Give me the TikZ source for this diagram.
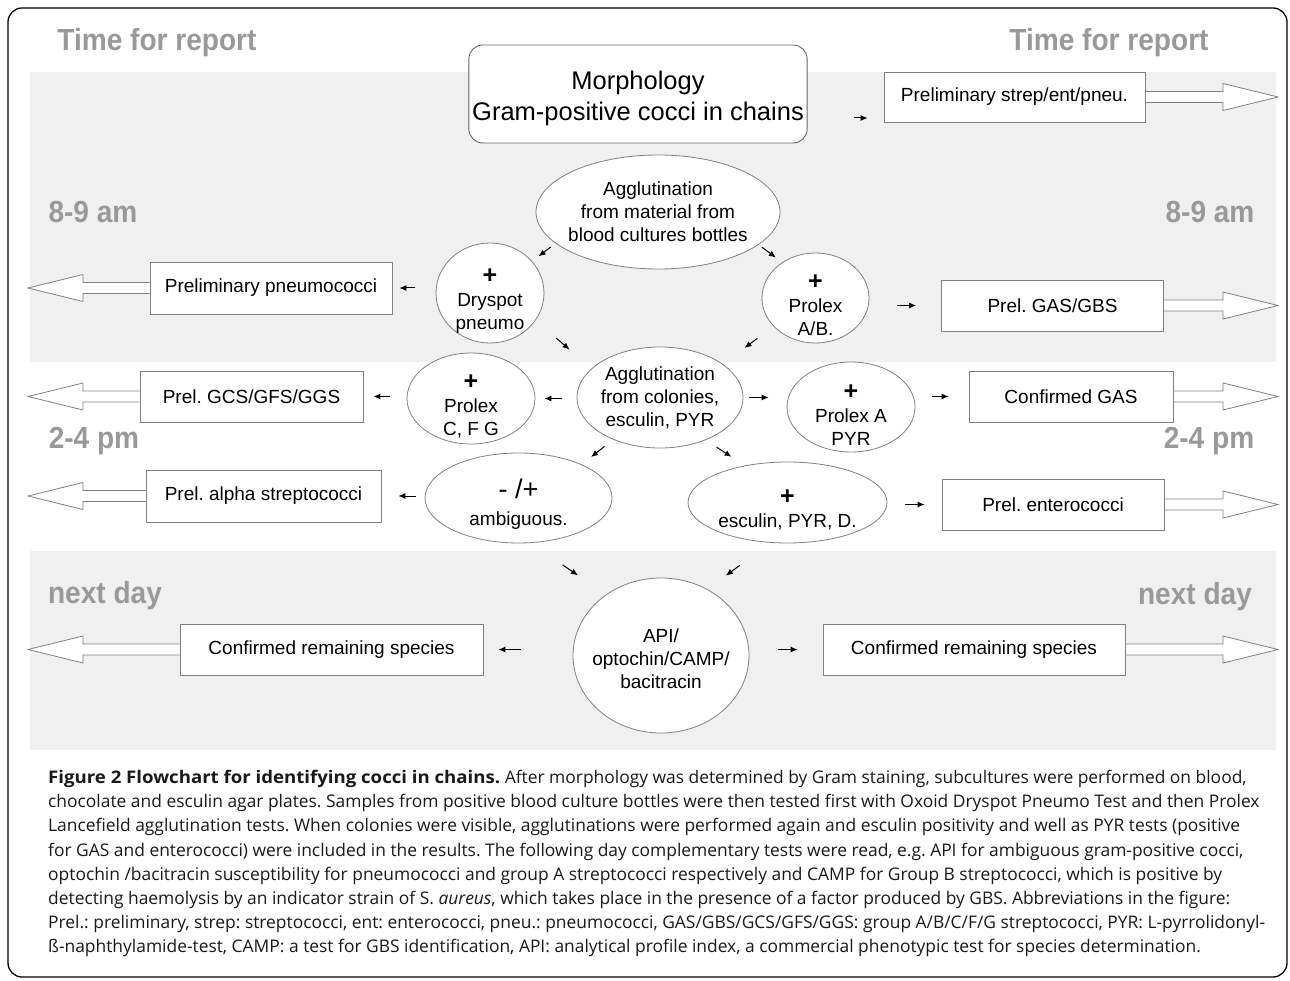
\documentclass[tikz,border=0pt]{standalone}
\usepackage{fontspec}
\setmainfont{Open Sans}
\newfontfamily\diagfont{Liberation Sans}
\newfontfamily\timefamily[FakeStretch=0.92]{Liberation Sans}
\usepackage{tikz}
\usetikzlibrary{calc,arrows.meta,backgrounds,shapes.geometric}
\frenchspacing
\newcommand{\bandcolor}{black!6}
\newcommand{\edgecolor}{black!50}
\newcommand{\timecolor}{black!40}
\newcommand{\shaft}{5.5}
\newcommand{\head}{13.5}
\newcommand{\headlen}{55}
\newcommand{\boxfont}{\diagfont\fontsize{19}{23}\selectfont}
\newcommand{\timefont}{\timefamily\bfseries\fontsize{30.5}{36}\selectfont}
\newcommand{\plus}{\rule{0pt}{30pt}{\bfseries\fontsize{25}{25}\selectfont +}}
\newcommand{\bigright}[2]{\draw[bigarrow] ($(#1.east)+(0,-\shaft)$) -- ($(#2)+(-\headlen,-\shaft)$) -- ($(#2)+(-\headlen,-\head)$) -- (#2) -- ($(#2)+(-\headlen,\head)$) -- ($(#2)+(-\headlen,\shaft)$) -- ($(#1.east)+(0,\shaft)$);}
\newcommand{\bigleft}[2]{\draw[bigarrow] ($(#1.west)+(0,-\shaft)$) -- ($(#2)+(\headlen,-\shaft)$) -- ($(#2)+(\headlen,-\head)$) -- (#2) -- ($(#2)+(\headlen,\head)$) -- ($(#2)+(\headlen,\shaft)$) -- ($(#1.west)+(0,\shaft)$);}
\tikzset{
  report/.style={font=\timefont, text=\timecolor, inner sep=0pt},
  result/.style={draw=\edgecolor, fill=white, line width=0.8pt, font=\boxfont, inner sep=0pt},
  test/.style={ellipse, draw=\edgecolor, fill=white, line width=0.8pt, font=\boxfont, align=center, inner sep=-15pt},
  sarr/.style={-{Latex[length=7pt,width=6pt]}, line width=1pt},
  bigarrow/.style={draw=\edgecolor, fill=white, line width=0.8pt},
}

\begin{document}
\begin{tikzpicture}[x=1pt, y=-1pt]
\useasboundingbox (0,0) rectangle (1290,981);
\draw[line width=1.3pt, rounded corners=14pt] (8,8) rectangle (1287,977);
%labels
\node[report] (time1) at (157, 43) {Time for report};
\node[report] (time2) at (1109, 43) {Time for report};
\node[report] (am1) at (93, 212) {8-9 am};
\node[report] (am2) at (1210, 212) {8-9 am};
\node[report] (pm1) at (94, 441) {2-4 pm};
\node[report] (pm2) at (1209, 441) {2-4 pm};
\node[report] (day1) at (105, 596) {next day};
\node[report] (day2) at (1195, 597) {next day};
%8-9 am
\node[draw=black!60, fill=white, line width=0.9pt, rounded corners=14pt, align=center, minimum width=336pt, minimum height=98pt, font=\diagfont\fontsize{25.5}{31}\selectfont] (morph) at (638, 94) {\rule{0pt}{27pt}Morphology\\Gram-positive cocci in chains};
\node[result, minimum width=261pt, minimum height=50pt] (strep) at (1014.5, 97) {Preliminary strep/ent/pneu.};
\node[test, minimum width=244pt, minimum height=114pt] (agg1) at (658, 212) {Agglutination\\from material from\\blood cultures bottles};
\node[test, minimum width=108pt, minimum height=100pt] (dry) at (490, 293) {\plus\\Dryspot\\pneumo};
\node[test, minimum width=107pt, minimum height=90pt] (prab) at (815.5, 298) {\plus\\Prolex\\A/B.};
\node[result, minimum width=242pt, minimum height=52pt] (pneu) at (271, 288) {Preliminary pneumococci};
\node[result, minimum width=222pt, minimum height=51pt] (gasgbs) at (1052.5, 305.5) {Prel. GAS/GBS};
%2-4 pm
\node[test, minimum width=166pt, minimum height=101pt] (agg2) at (660, 397.5) {Agglutination\\from colonies,\\esculin, PYR};
\node[test, minimum width=128pt, minimum height=91pt] (cfg) at (471, 398.5) {\plus\\Prolex\\C, F G};
\node[result, minimum width=223pt, minimum height=51pt] (gcs) at (251.5, 396.5) {Prel. GCS/GFS/GGS};
\node[test, minimum width=128pt, minimum height=90pt] (proa) at (851, 407) {\plus\\Prolex A\\PYR};
\node[result, minimum width=204pt, minimum height=51pt] (cgas) at (1071, 396.5) {Confirmed GAS};
\node[test, minimum width=187pt, minimum height=90pt] (amb) at (518.5, 498) {\rule{0pt}{32pt}{\fontsize{27}{29}\selectfont - /+}\\[4pt]ambiguous.};
\node[result, minimum width=235pt, minimum height=52pt] (alpha) at (263.5, 496) {Prel. alpha streptococci};
\node[test, minimum width=199pt, minimum height=81pt] (esc) at (787.5, 502.5) {\rule{0pt}{25pt}\plus\\esculin, PYR, D.};
\node[result, minimum width=222pt, minimum height=51pt] (ent) at (1053, 504.5) {Prel. enterococci};
%next day
\node[test, minimum width=176pt, minimum height=155pt] (api) at (661, 655.5) {\rule{0pt}{20pt}API/\\optochin/CAMP/\\bacitracin};
\node[result, minimum width=303pt, minimum height=51pt] (crl) at (331.5, 649.5) {Confirmed remaining species};
\node[result, minimum width=302pt, minimum height=51pt] (crr) at (974, 649.5) {Confirmed remaining species};
%tips
\coordinate (strepTip) at (1278, 97);
\coordinate (pneuTip) at (28, 288);
\coordinate (gasgbsTip) at (1278, 305.5);
\coordinate (gcsTip) at (28, 396.5);
\coordinate (cgasTip) at (1278, 396.5);
\coordinate (alphaTip) at (28, 496);
\coordinate (entTip) at (1278, 504.5);
\coordinate (crlTip) at (28, 649.5);
\coordinate (crrTip) at (1278, 649.5);
%small arrows
\draw[sarr, shorten <=46pt, shorten >=16pt] ([yshift=-24pt]morph.east) -- ([yshift=-24pt]morph.east -| strep.west);
\draw[sarr, shorten <=6pt, shorten >=8pt] (agg1.197) -- (dry.37);
\draw[sarr, shorten <=4pt, shorten >=8pt] (agg1.342) -- (prab.133);
\draw[sarr, shorten <=21pt, shorten >=7pt] (dry.west |- pneu) -- (pneu.east);
\draw[sarr, shorten <=28pt, shorten >=25pt] (prab.east |- gasgbs) -- (gasgbs.west);
\draw[sarr, shorten <=27pt, shorten >=29pt] (dry.329) -- (agg2.157);
\draw[sarr, shorten <=20pt, shorten >=27pt] (prab.214) -- (agg2.28);
\draw[sarr, shorten <=15pt, shorten >=9pt] (agg2.west |- cfg) -- (cfg.east);
\draw[sarr, shorten <=17pt, shorten >=10pt] (cfg.west |- gcs) -- (gcs.east);
\draw[sarr, shorten <=6pt, shorten >=18pt] (agg2.east) -- (agg2.east -| proa.west);
\draw[sarr, shorten <=17pt, shorten >=20pt] (proa.east |- cgas) -- (cgas.west);
\draw[sarr, shorten <=11pt, shorten >=12pt] (agg2.222) -- (amb.28);
\draw[sarr, shorten <=13pt, shorten >=16pt] (agg2.317) -- (esc.139);
\draw[sarr, shorten <=9pt, shorten >=17pt] (amb.west |- alpha) -- (alpha.east);
\draw[sarr, shorten <=18pt, shorten >=17pt] (esc.east |- ent) -- (ent.west);
\draw[sarr, shorten <=39pt, shorten >=34pt] (amb.285) -- (api.132);
\draw[sarr, shorten <=38pt, shorten >=23pt] (esc.247) -- (api.55);
\draw[sarr, shorten <=52pt, shorten >=15pt] (api.west |- crl) -- (crl.east);
\draw[sarr, shorten <=29pt, shorten >=25pt] (api.east |- crr) -- (crr.west);
%bands and report arrows
\begin{scope}[on background layer]
\fill[\bandcolor] (30,72) rectangle (1276,362);
\fill[\bandcolor] (30,551) rectangle (1276,750);
\bigright{strep}{strepTip}
\bigleft{pneu}{pneuTip}
\bigright{gasgbs}{gasgbsTip}
\bigleft{gcs}{gcsTip}
\bigright{cgas}{cgasTip}
\bigleft{alpha}{alphaTip}
\bigright{ent}{entTip}
\bigleft{crl}{crlTip}
\bigright{crr}{crrTip}
\end{scope}
%caption
\node[anchor=north west, align=left, inner sep=0pt, text=black!90, font=\fontsize{17.4}{24.2}\selectfont] (caption) at (48, 770) {{\bfseries\addfontfeatures{FakeStretch=1.07}Figure 2 Flowchart for identifying cocci in chains.} After morphology was determined by Gram staining, subcultures were performed on blood,\\
chocolate and esculin agar plates. Samples from positive blood culture bottles were then tested first with Oxoid Dryspot Pneumo Test and then Prolex\\
Lancefield agglutination tests. When colonies were visible, agglutinations were performed again and esculin positivity and well as PYR tests (positive\\
for GAS and enterococci) were included in the results. The following day complementary tests were read, e.g. API for ambiguous gram-positive cocci,\\
optochin /bacitracin susceptibility for pneumococci and group A streptococci respectively and CAMP for Group B streptococci, which is positive by\\
detecting haemolysis by an indicator strain of S. \textit{aureus}, which takes place in the presence of a factor produced by GBS. Abbreviations in the figure:\\
Prel.: preliminary, strep: streptococci, ent: enterococci, pneu.: pneumococci, GAS/GBS/GCS/GFS/GGS: group A/B/C/F/G streptococci, PYR: L-pyrrolidonyl-\\
ß-naphthylamide-test, CAMP: a test for GBS identification, API: analytical profile index, a commercial phenotypic test for species determination.};
\end{tikzpicture}
\end{document}
